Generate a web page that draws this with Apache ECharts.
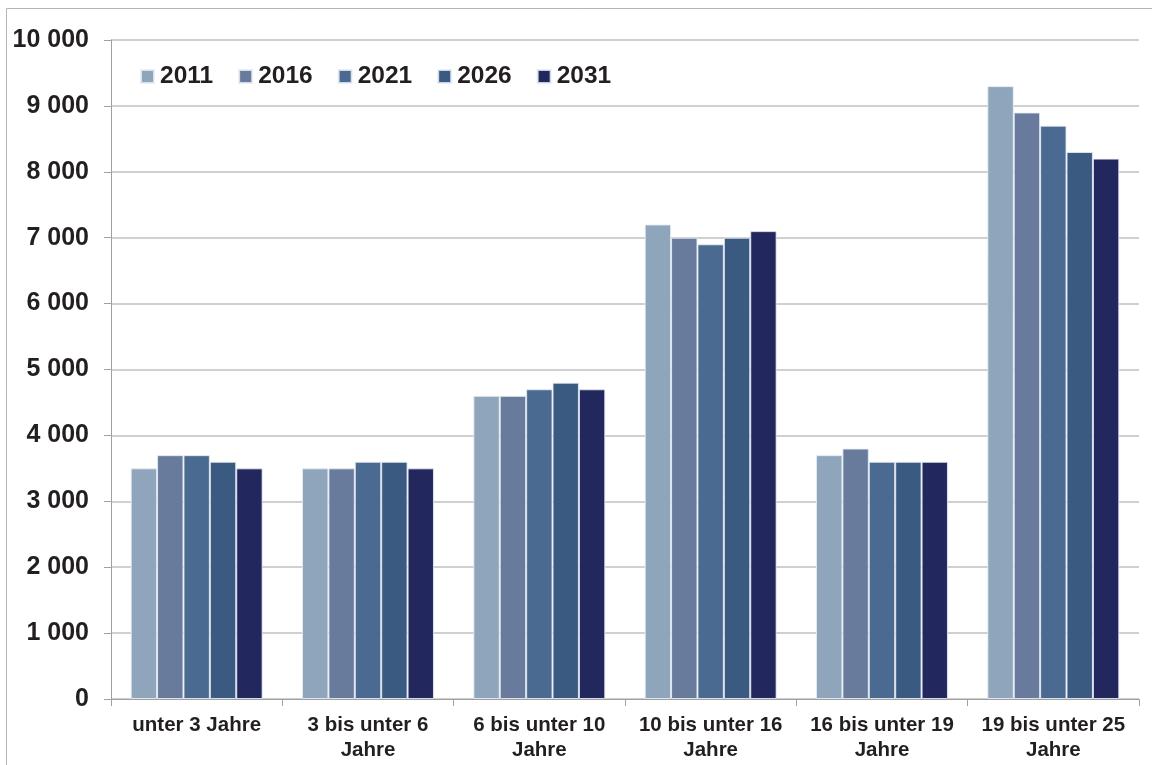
<!DOCTYPE html>
<html>
<head>
<meta charset="utf-8">
<script src="https://cdn.jsdelivr.net/npm/echarts@6/dist/echarts.min.js"></script>
<style>
  html, body { margin: 0; padding: 0; background: #fff; }
  #chart { width: 1152px; height: 765px; }
</style>
</head>
<body>
<div id="chart"></div>
<script>
// Age groups on the x axis
const categories = [
  'unter 3 Jahre',
  '3 bis unter 6\nJahre',
  '6 bis unter 10\nJahre',
  '10 bis unter 16\nJahre',
  '16 bis unter 19\nJahre',
  '19 bis unter 25\nJahre'
];

// Population per age group and year
const years = ['2011', '2016', '2021', '2026', '2031'];
const values2011 = [3500, 3500, 4600, 7200, 3700, 9300];
const values2016 = [3700, 3500, 4600, 7000, 3800, 8900];
const values2021 = [3700, 3600, 4700, 6900, 3600, 8700];
const values2026 = [3600, 3600, 4800, 7000, 3600, 8300];
const values2031 = [3500, 3500, 4700, 7100, 3600, 8200];
const seriesValues = [values2011, values2016, values2021, values2026, values2031];

const colors = ['#8fa5bb', '#687b9c', '#4a6a91', '#3a5a82', '#22275e'];

const fontFamily = 'Liberation Sans, Arial, sans-serif';
const textColor = '#231f20';

const chart = echarts.init(document.getElementById('chart'));

chart.setOption({
  animation: false,
  color: colors,
  graphic: [{
    type: 'rect',
    shape: { x: 6.5, y: 8.5, width: 1160, height: 770 },
    style: { fill: 'none', stroke: '#b4b4b4', lineWidth: 1 },
    silent: true,
    z: -1
  }],
  grid: { left: 111, right: 13, top: 40, bottom: 66, containLabel: false },
  legend: {
    left: 140,
    top: 64,
    padding: 0,
    icon: 'rect',
    itemWidth: 13,
    itemHeight: 13,
    itemGap: 25,
    textStyle: {
      fontFamily: fontFamily,
      fontSize: 24.5,
      fontWeight: 'bold',
      color: textColor,
      padding: [0, 0, 0, 1]
    },
    data: years
  },
  xAxis: {
    type: 'category',
    data: categories,
    axisLine: { lineStyle: { color: '#a0a0a0', width: 1 } },
    axisTick: { show: true, length: 7, lineStyle: { color: '#a0a0a0' } },
    axisLabel: {
      interval: 0,
      margin: 14,
      fontFamily: fontFamily,
      fontSize: 20.5,
      fontWeight: 'bold',
      color: textColor,
      lineHeight: 25,
      align: 'center'
    }
  },
  yAxis: {
    type: 'value',
    min: 0,
    max: 10000,
    interval: 1000,
    axisLine: { show: true, lineStyle: { color: '#a0a0a0', width: 1 } },
    axisTick: { show: true, length: 7, lineStyle: { color: '#a0a0a0' } },
    splitLine: { lineStyle: { color: '#c0c0c0', width: 1.5 } },
    axisLabel: {
      margin: 22,
      fontFamily: fontFamily,
      fontSize: 25,
      fontWeight: 'bold',
      color: textColor,
      formatter: function (v) {
        return String(v).replace(/\B(?=(\d{3})+(?!\d))/g, ' ');
      }
    }
  },
  series: years.map(function (y, i) {
    return {
      name: y,
      type: 'bar',
      data: seriesValues[i],
      barGap: '0%',
      barCategoryGap: '23%',
      itemStyle: {
        color: colors[i],
        borderColor: 'rgba(230,236,244,0.85)',
        borderWidth: 1
      }
    };
  })
});
</script>
</body>
</html>
